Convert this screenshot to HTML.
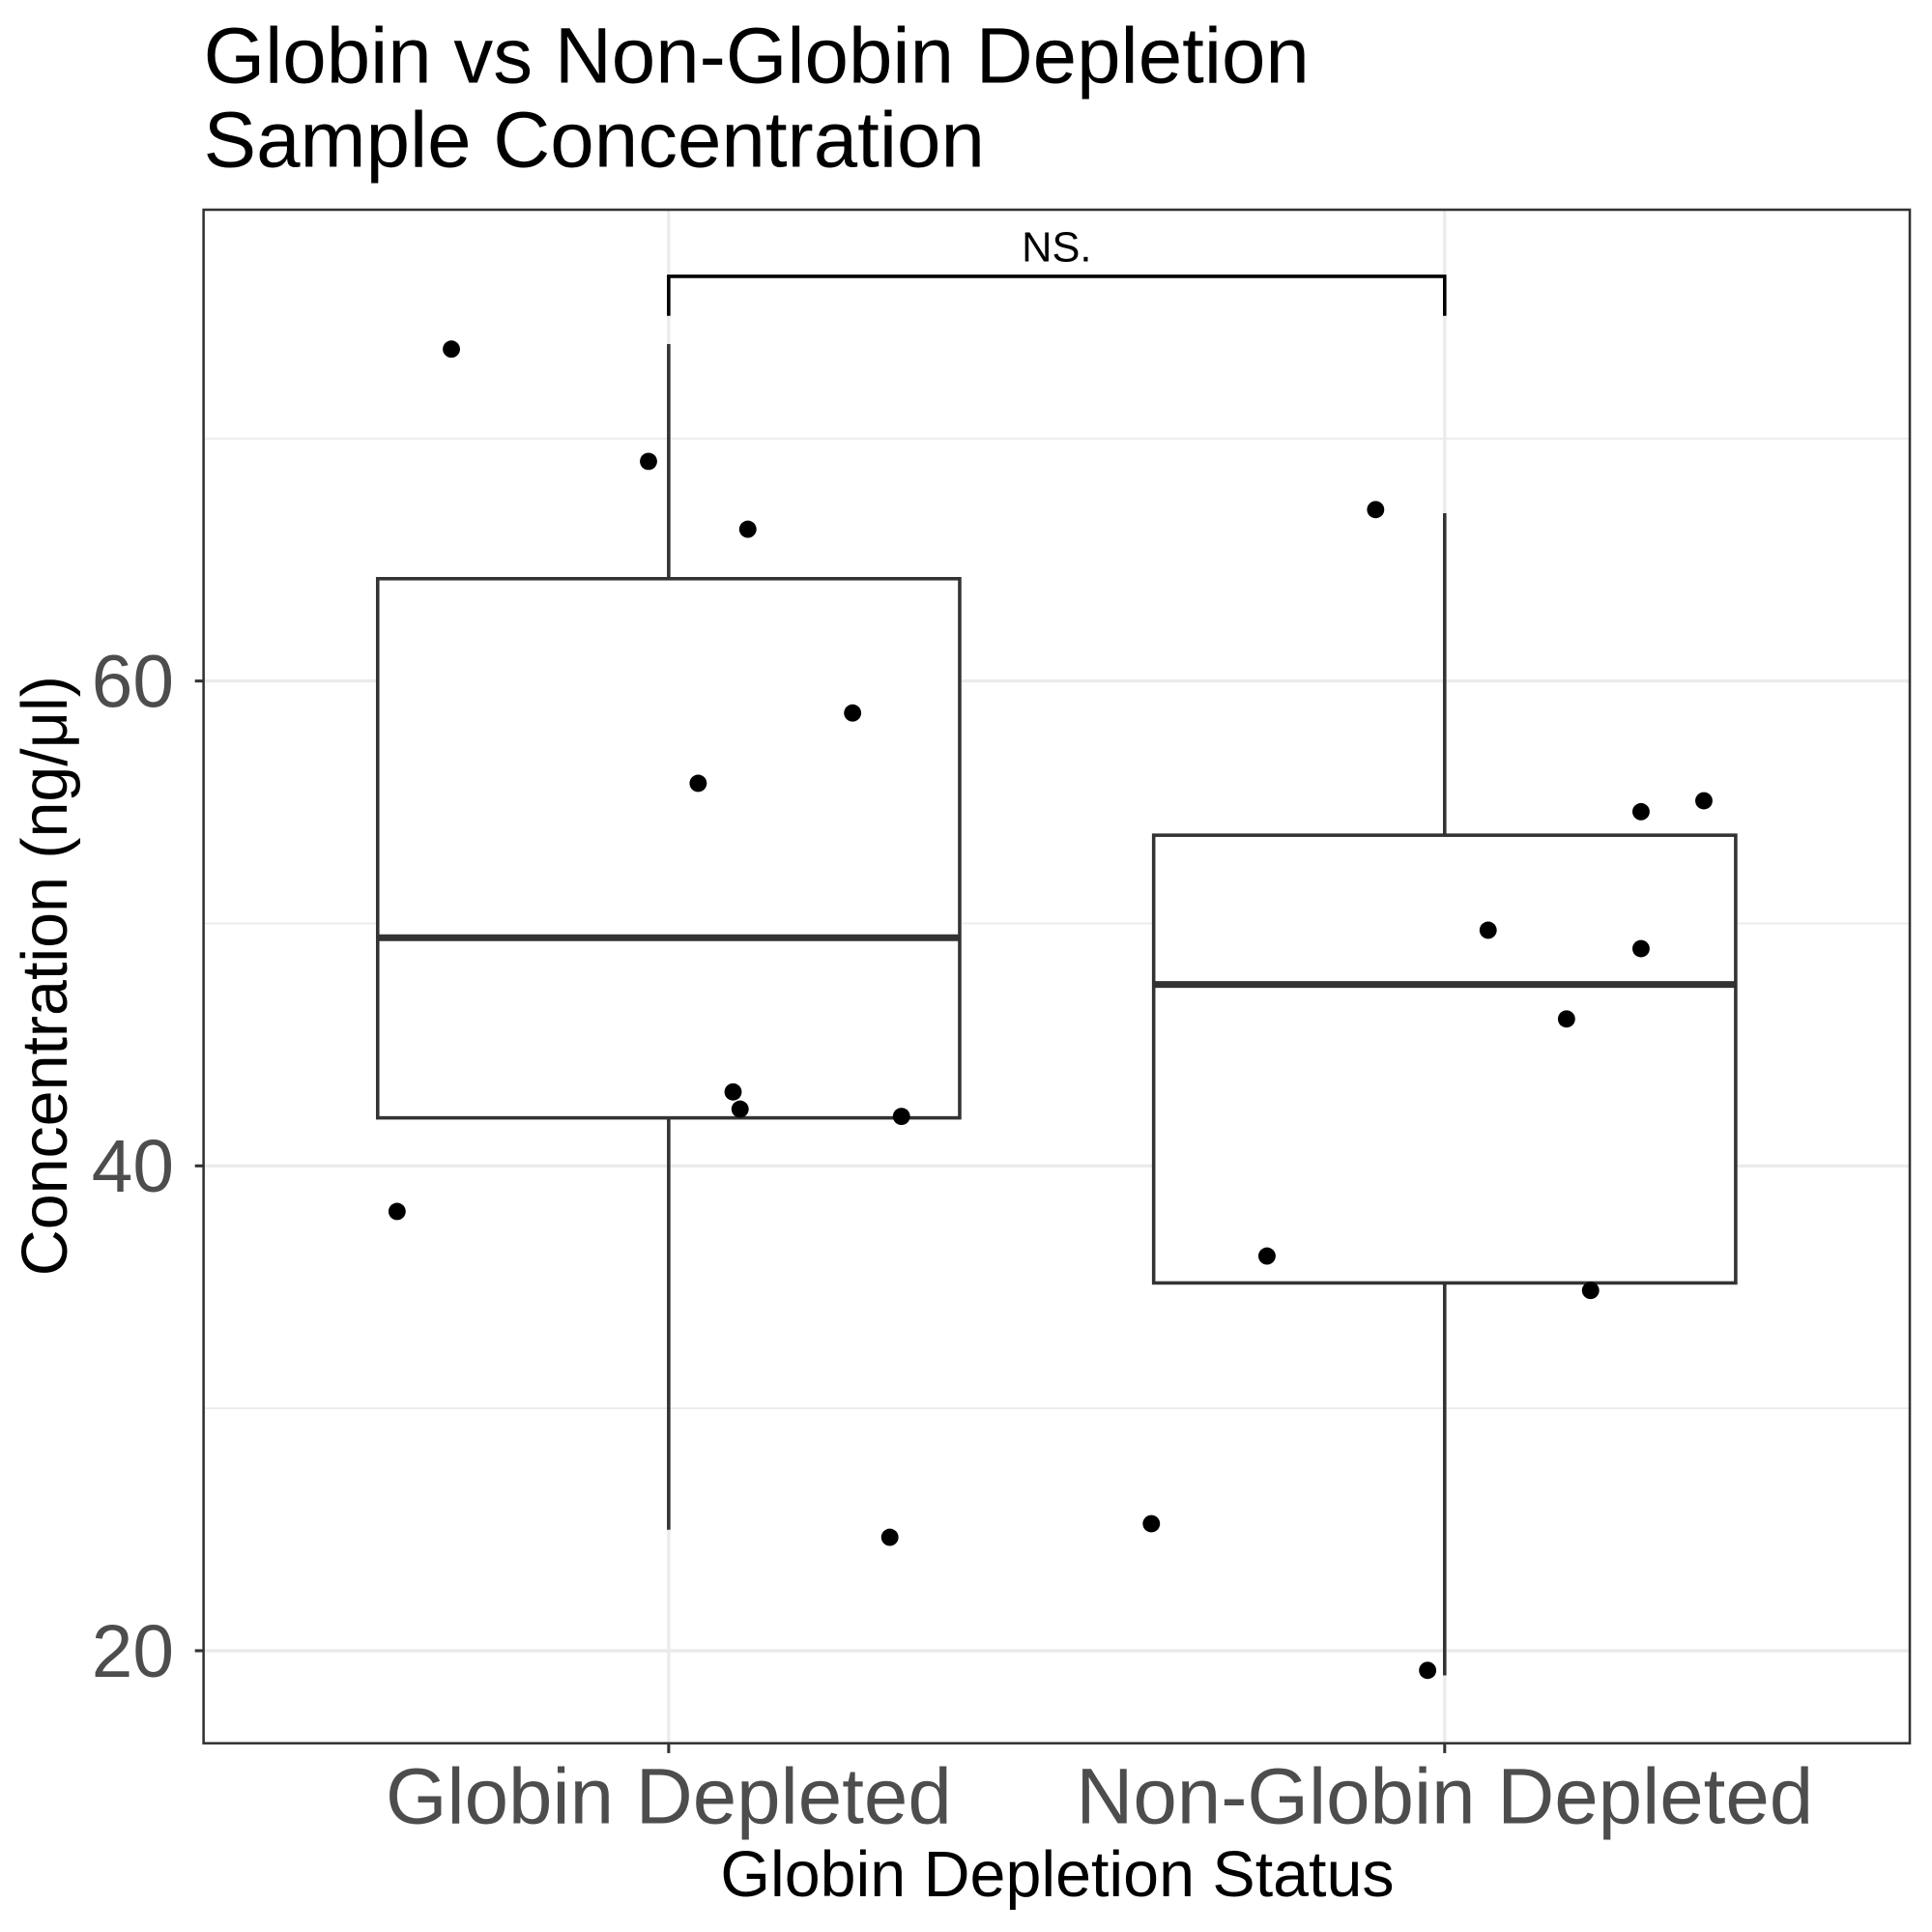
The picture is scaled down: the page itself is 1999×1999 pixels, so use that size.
<!DOCTYPE html>
<html><head><meta charset="utf-8"><style>html,body{margin:0;padding:0;background:#fff}svg{display:block}</style></head>
<body>
<svg width="1999" height="1999" viewBox="0 0 1566 1566" xmlns="http://www.w3.org/2000/svg" font-family="'Liberation Sans', Arial, sans-serif">
<rect width="1566" height="1566" fill="#fff"/>
<text x="165" y="67" font-size="64">Globin vs Non-Globin Depletion</text>
<text x="165" y="135" font-size="64">Sample Concentration</text>
<g id="grid"></g>
<g id="marks"></g>
<rect x="165" y="170" width="1383" height="1243" fill="none" stroke="#333" stroke-width="2"/>
<g id="axes"></g>
<text x="857" y="1537" font-size="52" text-anchor="middle">Globin Depletion Status</text>
<text transform="translate(54,791) rotate(-90)" font-size="52" text-anchor="middle">Concentration (ng/μl)</text>
<script>
const categories = ["Globin Depleted", "Non-Globin Depleted"];
const q1 = [41.98, 35.17];
const median = [49.41, 47.48];
const q3 = [64.22, 53.64];
const whiskerLow = [24.99, 18.98];
const whiskerHigh = [73.9, 66.92];
const pointsGlobin = [73.69, 69.06, 66.26, 58.68, 55.78, 43.05, 42.34, 42.04, 38.12, 24.68];
const jitterGlobin = [-0.28, -0.026, 0.102, 0.237, 0.038, 0.083, 0.092, 0.300, -0.350, 0.285];
const pointsNonGlobin = [67.07, 55.06, 54.61, 49.72, 48.96, 46.06, 36.28, 34.86, 25.24, 19.19];
const jitterNonGlobin = [-0.089, 0.334, 0.253, 0.056, 0.253, 0.157, -0.229, 0.188, -0.378, -0.022];
const yTicks = [20, 40, 60];
const yMinor = [30, 50, 70];
const sigLabel = "NS.";

const NS = "http://www.w3.org/2000/svg";
const yS = v => 552 + (60 - v) * 19.65;
const xS = (i, j) => 542 + (i + (j || 0)) * 629;
function mk(tag, attrs, parent, txt) {
  const e = document.createElementNS(NS, tag);
  for (const k in attrs) e.setAttribute(k, attrs[k]);
  if (txt !== undefined) e.textContent = txt;
  document.getElementById(parent).appendChild(e);
  return e;
}
let e;
yMinor.forEach(v => {
  e = mk('line', {x1:165, x2:1548, y1:yS(v), y2:yS(v), stroke:'#ebebeb', 'stroke-width':1.4}, 'grid');
  
  
});
yTicks.forEach(v => {
  e = mk('line', {x1:165, x2:1548, y1:yS(v), y2:yS(v), stroke:'#ebebeb', 'stroke-width':2.6}, 'grid');
  
  
  e = mk('line', {x1:158, x2:165, y1:yS(v), y2:yS(v), stroke:'#333', 'stroke-width':2.4}, 'axes');
  
  
  e = mk('text', {x:141, y:yS(v)+21, 'font-size':60, fill:'#4d4d4d', 'text-anchor':'end'}, 'axes', String(v));
  
  
});
categories.forEach((c, i) => {
  e = mk('line', {x1:xS(i), x2:xS(i), y1:170, y2:1413, stroke:'#ebebeb', 'stroke-width':2.6}, 'grid');
  
  
  e = mk('line', {x1:xS(i), x2:xS(i), y1:1413, y2:1421, stroke:'#333', 'stroke-width':2.4}, 'axes');
  
  
  e = mk('text', {x:xS(i), y:1478, 'font-size':64, fill:'#4d4d4d', 'text-anchor':'middle'}, 'axes', c);
  
  
  const hw = 0.375 * 629;
  e = mk('line', {x1:xS(i), x2:xS(i), y1:yS(whiskerHigh[i]), y2:yS(q3[i]), stroke:'#333', 'stroke-width':2.8}, 'marks');
  
  
  e = mk('line', {x1:xS(i), x2:xS(i), y1:yS(q1[i]), y2:yS(whiskerLow[i]), stroke:'#333', 'stroke-width':2.8}, 'marks');
  
  
  e = mk('rect', {x:xS(i)-hw, y:yS(q3[i]), width:2*hw, height:yS(q1[i])-yS(q3[i]), fill:'#fff', stroke:'#333', 'stroke-width':2.8}, 'marks');
  
  
  e = mk('line', {x1:xS(i)-hw, x2:xS(i)+hw, y1:yS(median[i]), y2:yS(median[i]), stroke:'#333', 'stroke-width':5.5}, 'marks');
  
  
});
[[pointsGlobin, jitterGlobin], [pointsNonGlobin, jitterNonGlobin]].forEach((pair, i) => {
  pair[0].forEach((v, k) => {
    e = mk('circle', {cx:xS(i, pair[1][k]), cy:yS(v), r:7, fill:'#000'}, 'marks');
    
    
  });
});
e = mk('path', {d:`M${xS(0)},256 V224 H${xS(1)} V256`, fill:'none', stroke:'#000', 'stroke-width':2.8}, 'marks');


e = mk('text', {x:(xS(0)+xS(1))/2, y:212, 'font-size':34, 'text-anchor':'middle'}, 'marks', sigLabel);


</script>
</svg>
</body></html>
